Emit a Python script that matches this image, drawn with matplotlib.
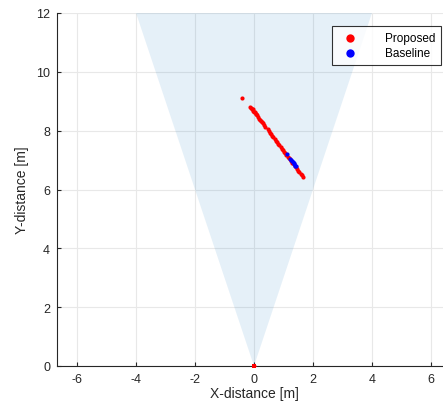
import numpy as np
import matplotlib.pyplot as plt

plt.rcParams["font.family"] = ["Liberation Sans", "DejaVu Sans"]
plt.rcParams["axes.unicode_minus"] = False

DARK = "#262626"
CONE = "#0072BD"

# field of view (apex at sensor, edges at y = 12)
fov_x = [0, -4.0, 4.0]
fov_y = [0, 12.0, 12.0]

# proposed estimates
prop_x = [-0.41, -0.12, -0.10, -0.08, -0.05, -0.02, 0.00, 0.02, 0.06, 0.08, 0.10,
          0.14, 0.18, 0.22, 0.24, 0.26, 0.30, 0.34, 0.38, 0.46, 0.50, 0.54,
          0.58, 0.62, 0.66, 0.70, 0.74, 0.78, 0.82, 0.86, 0.90, 0.94, 0.98,
          1.02, 1.06, 1.10, 1.14, 1.18, 1.22, 1.26, 1.30, 1.34, 1.38, 1.42,
          1.46, 1.50, 1.54, 1.58, 1.62, 1.66, 0.00]
prop_y = [9.12, 8.81, 8.78, 8.75, 8.72, 8.67, 8.65, 8.63, 8.57, 8.55, 8.52,
          8.46, 8.41, 8.36, 8.33, 8.30, 8.25, 8.20, 8.14, 8.04, 7.98, 7.93,
          7.88, 7.82, 7.77, 7.71, 7.66, 7.61, 7.55, 7.50, 7.45, 7.39, 7.34,
          7.29, 7.23, 7.18, 7.12, 7.07, 7.02, 6.96, 6.91, 6.86, 6.80, 6.75,
          6.70, 6.64, 6.59, 6.54, 6.48, 6.43, 0.00]

# baseline estimates
base_x = [1.11, 1.22, 1.25, 1.28, 1.31, 1.34, 1.37, 1.40, 1.42]
base_y = [7.21, 7.05, 7.01, 6.97, 6.93, 6.89, 6.85, 6.81, 6.79]

# sensor position
sensor_x = [0.0]
sensor_y = [0.0]

xticks = [-6, -4, -2, 0, 2, 4, 6]
yticks = [0, 2, 4, 6, 8, 10, 12]

fig = plt.figure(figsize=(4.43, 4.10), dpi=100)
ax = fig.add_axes([57 / 443, 43 / 410, 394 / 443, 353 / 410])

ax.fill(fov_x, fov_y, color=CONE, alpha=0.1, lw=0, zorder=1)
ax.scatter(prop_x, prop_y, s=9, color="#ff0000", lw=0, zorder=3, label="Proposed")
ax.scatter(base_x, base_y, s=9, color="#0000ff", lw=0, zorder=4, label="Baseline")
ax.scatter(sensor_x, sensor_y, s=10, marker="s", color="#ff0000", lw=0,
           zorder=5, clip_on=False)

ax.set_xlim(-6.68, 6.68)
ax.set_ylim(0, 12)
ax.set_xticks(xticks)
ax.set_yticks(yticks)
ax.grid(True, color="#e8e8e8", lw=0.8, zorder=0)
ax.set_axisbelow(True)
for s in ["top", "right"]:
    ax.spines[s].set_visible(False)
for s in ["left", "bottom"]:
    ax.spines[s].set_color(DARK)
    ax.spines[s].set_linewidth(0.8)
ax.tick_params(direction="in", length=3, colors=DARK, labelsize=9, pad=5)

ax.set_xlabel("X-distance [m]", fontsize=10, color=DARK, labelpad=1)
ax.set_ylabel("Y-distance [m]", fontsize=10, color=DARK, labelpad=5)

leg = ax.legend(loc="upper right", bbox_to_anchor=(441 / 443, 1 - 27 / 410),
                bbox_transform=fig.transFigure, fontsize=8.5, frameon=True,
                fancybox=False, edgecolor="black", markerscale=2.0,
                handletextpad=1.8, borderpad=0.5, labelspacing=0.3,
                handlelength=2.2, borderaxespad=0)
leg.get_frame().set_linewidth(0.8)

fig.savefig("out.png", dpi=100)
